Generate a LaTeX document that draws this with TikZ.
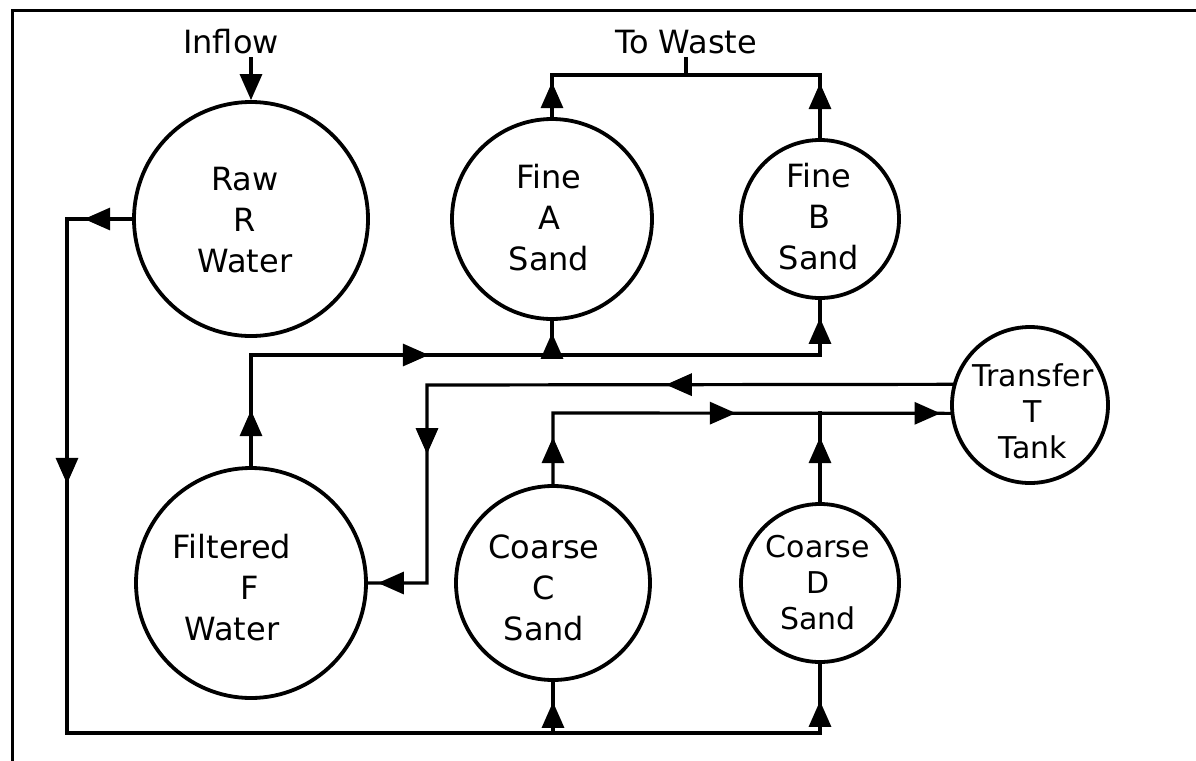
\documentclass[tikz,border=0pt]{standalone}
\usepackage{fontspec}
\newfontfamily\lettering{DejaVu Sans}
\usetikzlibrary{arrows.meta,decorations.markings}

\tikzset{
  tank/.style={circle, draw, line width=1.9pt, inner sep=0pt, minimum size=#1},
  pipe/.style={line width=1.6pt, line cap=rect, line join=miter},
  tip/.tip={Triangle[length=13pt,width=11pt]},
  flow/.style={postaction={decorate,
      decoration={markings, mark=at position #1 with {\arrow{tip}}}}},
  lbl/.style={font=\lettering\fontsize{16}{20.5}\selectfont, align=center, inner sep=2pt},
  lbls/.style={font=\lettering\fontsize{15}{18}\selectfont, align=center, inner sep=2pt},
}

\begin{document}
\begin{tikzpicture}[x=0.5pt, y=-0.5pt]
\useasboundingbox (0,0) rectangle (1196,761);

% sheet frame
\draw[line width=1.5pt] (12,761) -- (12,10) -- (1196,10);

% tanks
\node[tank=117pt] (R) at (251,219) {};
\node[tank=100pt] (A) at (552,219) {};
\node[tank=79pt]  (B) at (820,219) {};
\node[tank=78pt]  (T) at (1030,405) {};
\node[tank=115pt] (F) at (251,583) {};
\node[tank=97pt]  (C) at (553,583) {};
\node[tank=79pt]  (D) at (820,583) {};

% tank labels
\node[lbl]  (tR) at (245,220) {Raw\\R\\Water};
\node[lbl]  (tA) at (549,218) {Fine\\A\\Sand};
\node[lbl]  (tB) at (819,217) {Fine\\B\\Sand};
\node[lbl]  (tF) at (232,588) {Filtered\\\hspace*{18pt}F\\Water};
\node[lbl]  (tC) at (544,588) {Coarse\\C\\Sand};
\node[lbls] (tD) at (818,583) {Coarse\\D\\Sand};
\node[lbls] (tT) at (1033,411) {Transfer\\T\\Tank};

% free labels
\node[lbl] (inflow) at (231,42) {Inflow};
\node[lbl] (waste) at (686,42) {To Waste};

% pipe corners
\coordinate (k1) at (67,219);
\coordinate (k2) at (67,733);
\coordinate (k3) at (820,733);
\coordinate (k4) at (251,355);
\coordinate (k5) at (427,385);
\coordinate (k6) at (427,583);
\coordinate (k7) at (553,413);
\coordinate (w)  at (686,75);

% inflow to raw water
\draw[pipe, -tip] (inflow.south -| R.north) -- (R.north);

% raw water down to the coarse filters
\draw[pipe, flow=24pt, flow=165pt, flow=-18.5pt]
  (R.west) -- (k1) -- (k2) -- (k3) -- (D.south);
\draw[pipe, flow=-10pt] (C.south |- k2) -- (C.south);

% fine filters to waste
\draw[pipe, flow=17.5pt] (A.north) |- (B.north |- w);
\draw[pipe, flow=27.5pt] (B.north) -- (B.north |- w);
\draw[pipe] (waste.south) -- (w);

% filtered water back to the fine filters
\draw[pipe, flow=28pt, flow=144.5pt, flow=-9pt]
  (F.north) -- (k4) -- (k4 -| B.south) -- (B.south);
\draw[pipe, flow=-6pt] (A.south |- k4) -- (A.south);

% transfer tank to filtered water
\draw[pipe, flow=143.5pt, flow=297.5pt, flow=-5pt]
  (T.165) -- (k5) -- (k6) -- (F.east);

% coarse filters to transfer tank
\draw[pipe, flow=23.5pt, flow=127pt, flow=-5pt]
  (C.north) -- (k7) -- (T.186);
\draw[pipe, flow=32.5pt] (D.north) -- (D.north |- k7);
\end{tikzpicture}
\end{document}
